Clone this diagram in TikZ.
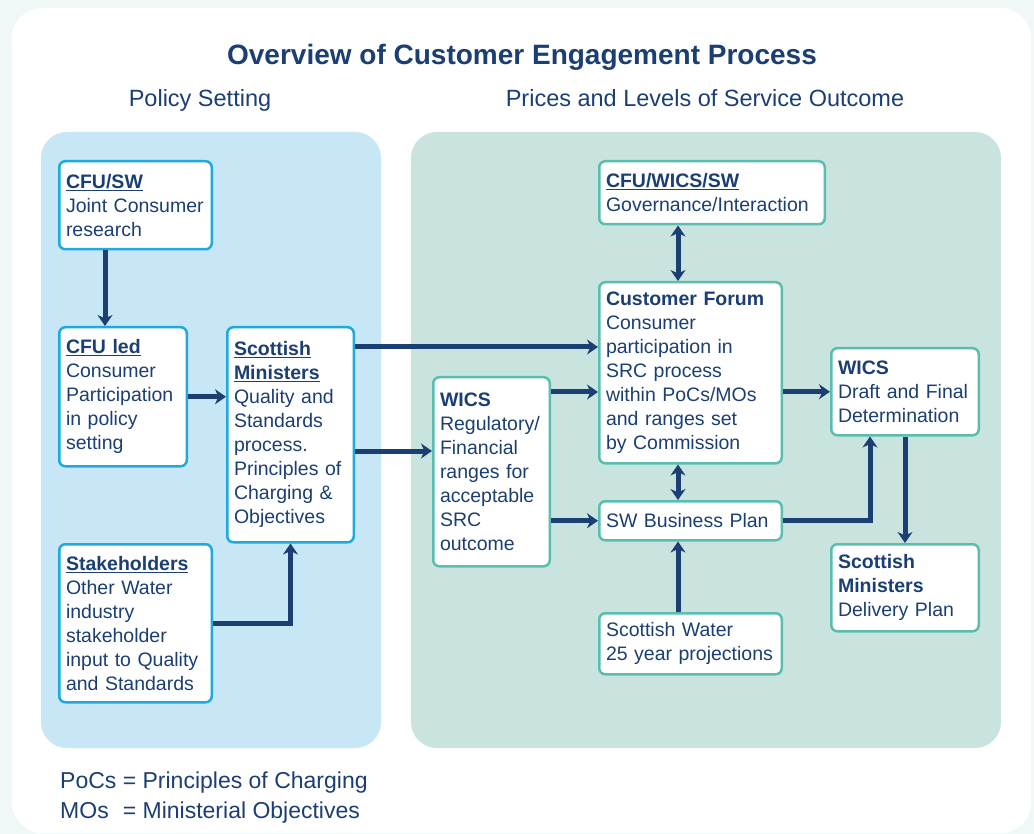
\documentclass[tikz,border=0pt]{standalone}
\usepackage{fontspec}
\setmainfont{Liberation Sans}
\usetikzlibrary{arrows.meta}

\definecolor{navy}{HTML}{1B3F72}
\definecolor{latar}{HTML}{EFF7F7}
\definecolor{birumuda}{HTML}{C7E6F6}
\definecolor{biru}{HTML}{1EAADD}
\definecolor{hijaumuda}{HTML}{C9E4DF}
\definecolor{hijau}{HTML}{5BBDAF}

\tikzset{
  ujung/.tip={Stealth[length=11pt,width=15pt,inset=3.5pt]},
  kotak/.style={draw, fill=white, line width=2.5pt, rounded corners=6pt,
    anchor=north west, align=left, inner xsep=6.75pt, inner ysep=7pt,
    text=navy, font=\fontsize{19.5}{24}\selectfont},
  kotakbiru/.style={kotak, draw=biru},
  kotakhijau/.style={kotak, draw=hijau},
  panah/.style={draw=navy, line width=5pt, -ujung},
  panahdua/.style={draw=navy, line width=5pt, ujung-ujung},
}

\begin{document}
\begin{tikzpicture}[x=1pt,y=-1pt]
      \useasboundingbox (0,0) rectangle (1034,834);

      % Latar belakang dan panel
      \fill[latar] (0,0) rectangle (1034,834);
      \fill[white, rounded corners=30pt] (12,8) rectangle (1031,833);
      \fill[birumuda, rounded corners=26pt] (41,132) rectangle (381,748);
      \fill[hijaumuda, rounded corners=26pt] (411,132) rectangle (1001,748);

      % Judul dan subjudul
      \node[anchor=base, text=navy, font=\fontsize{28}{32}\selectfont\bfseries] (judul) at (522,65) {Overview of Customer Engagement Process};
      \node[anchor=base, text=navy, font=\fontsize{23.5}{28}\selectfont] (kebijakan) at (200,107) {Policy Setting};
      \node[anchor=base, text=navy, font=\fontsize{23.5}{28}\selectfont] (hasil) at (705,107) {Prices and Levels of Service Outcome};

      % Kotak-kotak panel kiri
      \node[kotakbiru, text width=139pt, minimum height=88pt] (cfusw) at (58,160)
        {\textbf{\underline{CFU/SW}}\\Joint Consumer\\research};
      \node[kotakbiru, text width=114pt, minimum height=139pt] (cfuled) at (58,326)
        {\textbf{\underline{CFU led}}\\Consumer\\Participation\\in policy\\setting};
      \node[kotakbiru, text width=113pt, minimum height=215pt] (scotmin) at (226,326)
        {\textbf{\underline{Scottish}}\\\textbf{\underline{Ministers}}\\Quality and\\Standards\\process.\\Principles of\\Charging \&\\Objectives};
      \node[kotakbiru, text width=139pt, minimum height=158pt] (stake) at (58,543)
        {\textbf{\underline{Stakeholders}}\\Other Water\\industry\\stakeholder\\input to Quality\\and Standards};

      % Kotak-kotak panel kanan
      \node[kotakhijau, text width=212pt, minimum height=63pt] (gov) at (598,160)
        {\textbf{\underline{CFU/WICS/SW}}\\Governance/Interaction};
      \node[kotakhijau, text width=169pt, minimum height=181pt] (cf) at (598,281)
        {\textbf{Customer Forum}\\Consumer\\participation in\\SRC process\\within PoCs/MOs\\and ranges set\\by Commission};
      \node[kotakhijau, text width=103pt, minimum height=189pt] (wics) at (432,376)
        {\textbf{WICS}\\Regulatory/\\Financial\\ranges for\\acceptable\\SRC\\outcome};
      \node[kotakhijau, text width=169pt, minimum height=39pt] (swbp) at (598,500)
        {SW Business Plan};
      \node[kotakhijau, text width=169pt, minimum height=61pt] (swater) at (598,612)
        {Scottish Water\\25 year projections};
      \node[kotakhijau, text width=134pt, minimum height=87pt] (draft) at (830,347)
        {\textbf{WICS}\\Draft and Final\\Determination};
      \node[kotakhijau, text width=134pt, minimum height=87pt] (deliv) at (830,543)
        {\textbf{Scottish}\\\textbf{Ministers}\\Delivery Plan};

      % Panah panel kiri
      \draw[panah] ([xshift=47pt]cfusw.south west) -- ([xshift=47pt]cfuled.north west);
      \draw[panah] (cfuled.east) -- (cfuled.east -| scotmin.west);
      \draw[panah] (stake.east) -| (scotmin.south);

      % Panah dari kiri ke kanan
      \draw[panah] ([yshift=-21pt]scotmin.north east) -- ([yshift=-21pt]scotmin.north east -| cf.west);
      \draw[panah] ([yshift=-125pt]scotmin.north east) -- ([yshift=-125pt]scotmin.north east -| wics.west);
      \draw[panah] ([yshift=-16pt]wics.north east) -- ([yshift=-16pt]wics.north east -| cf.west);
      \draw[panah] (swbp.west -| wics.east) -- (swbp.west);

      % Panah panel kanan
      \draw[panahdua] ([xshift=80pt]gov.south west) -- ([xshift=80pt]cf.north west);
      \draw[panahdua] ([xshift=80pt]cf.south west) -- ([xshift=80pt]swbp.north west);
      \draw[panah] ([xshift=80pt]swater.north west) -- ([xshift=80pt]swbp.south west);
      \draw[panah] (draft.west -| cf.east) -- (draft.west);
      \draw[panah] (swbp.east) -| ([xshift=40pt]draft.south west);
      \draw[panah] ([xshift=75pt]draft.south west) -- ([xshift=75pt]deliv.north west);

      % Keterangan singkatan
      \node[anchor=base west, inner sep=0pt, text=navy, font=\fontsize{23}{30}\selectfont] (ket) at (60,788)
        {\begin{tabular}[t]{@{}l@{ = }l@{}}PoCs & Principles of Charging\\MOs & Ministerial Objectives\end{tabular}};
\end{tikzpicture}
\end{document}
